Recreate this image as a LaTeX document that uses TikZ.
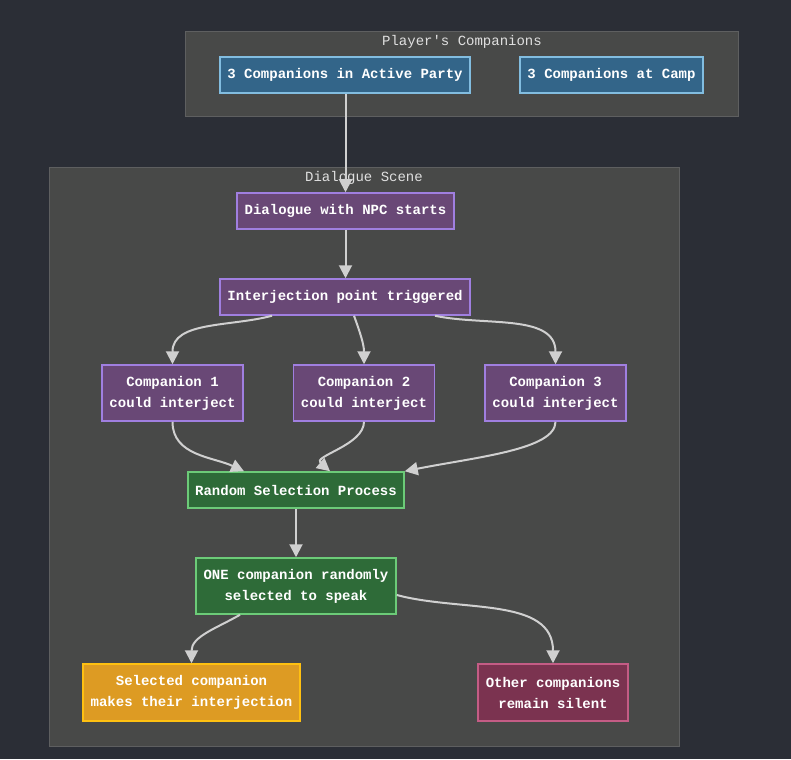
\documentclass[tikz,border=0pt]{standalone}
\usepackage{fontspec}
\setmainfont{Liberation Mono}
\usetikzlibrary{arrows.meta}

\definecolor{bgdark}{HTML}{2B2E36}
\definecolor{clfill}{HTML}{484948}
\definecolor{cldraw}{HTML}{5E5F60}
\definecolor{bluefill}{HTML}{336589}
\definecolor{bluedraw}{HTML}{82BDE0}
\definecolor{purpfill}{HTML}{694876}
\definecolor{purpdraw}{HTML}{A07FE0}
\definecolor{greenfill}{HTML}{2E6B38}
\definecolor{greendraw}{HTML}{6CCB78}
\definecolor{orfill}{HTML}{DD9B23}
\definecolor{ordraw}{HTML}{FFC011}
\definecolor{pinkfill}{HTML}{7B3350}
\definecolor{pinkdraw}{HTML}{C45C85}
\definecolor{edgegray}{HTML}{D0D0D0}

\tikzset{
	box/.style={draw, line width=1.5pt, text=white, font=\fontsize{14}{21}\selectfont\bfseries,
		align=center, inner xsep=7pt, minimum height=36pt},
	bluebox/.style={box, fill=bluefill, draw=bluedraw},
	purpbox/.style={box, fill=purpfill, draw=purpdraw},
	greenbox/.style={box, fill=greenfill, draw=greendraw},
	orbox/.style={box, fill=orfill, draw=ordraw},
	pinkbox/.style={box, fill=pinkfill, draw=pinkdraw},
	cluster/.style={fill=clfill, draw=cldraw, line width=1pt},
	cllabel/.style={text=white!88!black, font=\fontsize{14}{16}\selectfont},
	link/.style={draw=edgegray, line width=2pt, -{Triangle[length=13pt,width=13pt]}}
}

\begin{document}
\begin{tikzpicture}[x=1pt, y=-1pt]
		\fill[bgdark] (0,0) rectangle (791,759);
		\useasboundingbox (0,0) rectangle (791,759);

		% groups
		\draw[cluster] (185,32) rectangle (738,117);
		\node[cllabel] (lblplayer) at (462,42) {Player\textquotesingle s Companions};
		\draw[cluster] (49,168) rectangle (679,746);
		\node[cllabel] (lblscene) at (364,178) {Dialogue Scene};

		\node[bluebox, minimum width=250pt] (active) at (345,75) {3 Companions in Active Party};
		\node[bluebox, minimum width=183pt] (camp) at (611.5,75) {3 Companions at Camp};

		\node[purpbox, minimum width=217pt] (npc) at (345.5,211) {Dialogue with NPC starts};
		\node[purpbox, minimum width=250pt] (trig) at (345,297) {Interjection point triggered};
		\node[purpbox, minimum width=141pt, minimum height=56pt] (comp1) at (172.5,393) {Companion 1\\could interject};
		\node[purpbox, minimum width=141pt, minimum height=56pt] (comp2) at (364,393) {Companion 2\\could interject};
		\node[purpbox, minimum width=141pt, minimum height=56pt] (comp3) at (555.5,393) {Companion 3\\could interject};

		\node[greenbox, minimum width=216pt] (rsp) at (296,490) {Random Selection Process};
		\node[greenbox, minimum width=200pt, minimum height=56pt] (one) at (296,586) {ONE companion randomly\\selected to speak};

		\node[orbox, minimum width=217pt, minimum height=57pt] (sel) at (191.5,692.5) {Selected companion\\makes their interjection};
		\node[pinkbox, minimum width=150pt, minimum height=57pt] (other) at (553,692.5) {Other companions\\remain silent};

		\draw[link] (active.south -| npc.north) -- (npc);
		\draw[link] (npc) -- (trig.north -| npc.south);
		\draw[link] ([xshift=-73pt]trig.south) to[out=-165, in=90] (comp1.north);
		\draw[link] ([xshift=9pt]trig.south) to[out=-70, in=90] (comp2.north);
		\draw[link] ([xshift=90pt]trig.south) to[out=-12, in=90] (comp3.north);
		\draw[link] (comp1.south) to[out=-90, in=155] ([xshift=-52pt]rsp.north);
		\draw[link] (comp2.south) to[out=-90, in=140] ([xshift=34pt]rsp.north);
		\draw[link] (comp3.south) .. controls +(0,28) and +(70,-14) .. (rsp.north east);
		\draw[link] (rsp) -- (one);
		\draw[link] ([xshift=-56pt]one.south) to[out=-150, in=90] (sel.north);
		\draw[link] ([yshift=-9pt]one.east) to[out=-15, in=90] (other.north);
	\end{tikzpicture}
\end{document}
